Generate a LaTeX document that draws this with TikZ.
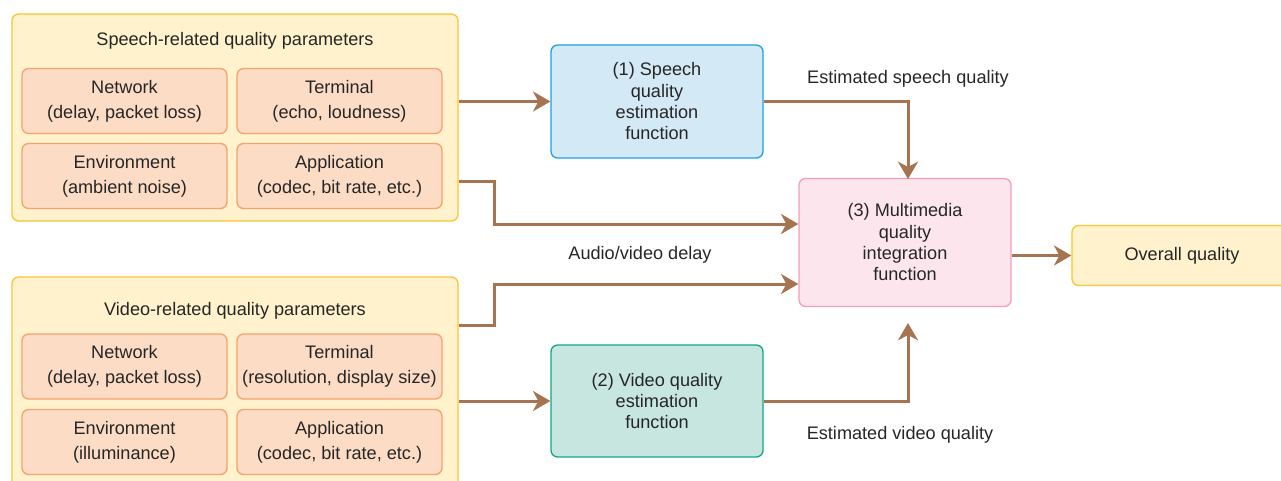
\documentclass[tikz,border=0pt]{standalone}
\usepackage{fontspec}
\setmainfont{Liberation Sans}
\usetikzlibrary{arrows.meta,calc}
\definecolor{outfill}{HTML}{FFF2CC}
\definecolor{outdraw}{HTML}{F9C530}
\definecolor{infill}{HTML}{FDDCC5}
\definecolor{indraw}{HTML}{F5A26F}
\definecolor{bluefill}{HTML}{D3EAF6}
\definecolor{bluedraw}{HTML}{1BA1E2}
\definecolor{greenfill}{HTML}{C8E6E0}
\definecolor{greendraw}{HTML}{13A58B}
\definecolor{pinkfill}{HTML}{FDE5EE}
\definecolor{pinkdraw}{HTML}{F29DB9}
\definecolor{arr}{HTML}{A67451}
\definecolor{txt}{HTML}{262626}
\begin{document}
\begin{tikzpicture}[x=0.75pt,y=-0.75pt,
  every node/.style={text=txt,font=\fontsize{13.6}{16}\selectfont},
  box/.style={rectangle,rounded corners=5pt,inner sep=0pt,align=center,line width=1pt},
  outerbox/.style={box,fill=outfill,draw=outdraw},
  parambox/.style={box,fill=infill,draw=indraw,minimum width=153.75pt,minimum height=48.75pt,font=\fontsize{13.6}{18.75}\selectfont},
  funcbox/.style={box,minimum width=159pt},
  lbl/.style={inner sep=0pt},
  conn/.style={draw=arr,line width=2.25pt,-{Stealth[length=13pt,width=15pt,inset=4pt]}}
]
\useasboundingbox (0,0) rectangle (1281,480);
\begin{scope}
\clip (0,0) rectangle (1281,480);
% outer boxes
\node[outerbox,minimum width=334.5pt,minimum height=155.25pt] (spo) at (235,117.5) {};
\node[outerbox,minimum width=334.5pt,minimum height=159.75pt] (vpo) at (235,383.5) {};
\node[lbl] (spt) at (235,41) {Speech-related quality parameters};
\node[lbl] (vpt) at (235,311) {Video-related quality parameters};
% speech params
\node[parambox] (sn) at (124.5,101) {Network\\(delay, packet loss)};
\node[parambox] (st) at (339.5,101) {Terminal\\(echo, loudness)};
\node[parambox] (se) at (124.5,176) {Environment\\(ambient noise)};
\node[parambox] (sa) at (339.5,176) {Application\\(codec, bit rate, etc.)};
% video params
\node[parambox] (vn) at (124.5,366.5) {Network\\(delay, packet loss)};
\node[parambox] (vt) at (339.5,366.5) {Terminal\\(resolution, display size)};
\node[parambox] (ve) at (124.5,442) {Environment\\(illuminance)};
\node[parambox] (va) at (339.5,442) {Application\\(codec, bit rate, etc.)};
% function boxes
\node[funcbox,fill=bluefill,draw=bluedraw,minimum height=84.75pt] (sest) at (657,101.5) {(1) Speech\\quality\\estimation\\function};
\node[funcbox,fill=greenfill,draw=greendraw,minimum height=84pt] (vest) at (657,401) {(2) Video quality\\estimation\\function};
\node[funcbox,fill=pinkfill,draw=pinkdraw,minimum height=96pt] (mm) at (905,242.5) {(3) Multimedia\\quality\\integration\\function};
\node[box,fill=outfill,draw=outdraw,minimum width=165pt,minimum height=45pt] (ov) at (1182,255.5) {Overall quality};
% coordinates
\coordinate (c1) at (908,179);
\coordinate (c2) at (908,323);
\coordinate (p1) at (458,181);
\coordinate (p2) at (458,325);
\coordinate (q1) at (494,224);
\coordinate (q2) at (494,284);
\coordinate (m1) at (799,224);
\coordinate (m2) at (799,284);
% connectors
\draw[conn] (sest.west -| spo.east) -- (sest.west);
\draw[conn] (vest.west -| vpo.east) -- (vest.west);
\draw[conn] (sest.east) -| (c1);
\draw[conn] (vest.east) -| (c2);
\draw[conn] (p1 -| spo.east) -| (q1) -- (m1 -| mm.west);
\draw[conn] (p2 -| vpo.east) -| (q2) -- (m2 -| mm.west);
\draw[conn] (mm.east |- ov.west) -- (ov.west);
% labels
\node[lbl] (l1) at (908,79) {Estimated speech quality};
\node[lbl] (l2) at (640,255) {Audio/video delay};
\node[lbl] (l3) at (900,435) {Estimated video quality};
\end{scope}
\end{tikzpicture}
\end{document}
